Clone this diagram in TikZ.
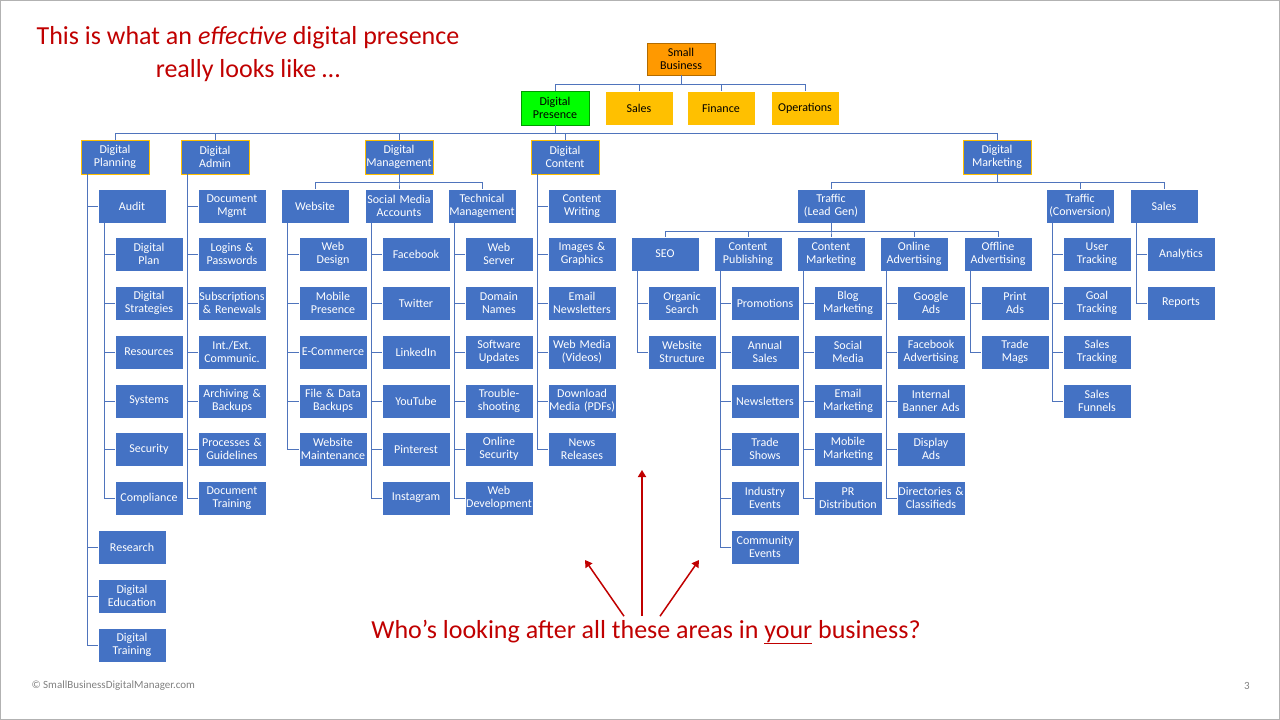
\documentclass[tikz,border=0pt]{standalone}
\usepackage{fontspec}
\setmainfont{Carlito}
\usetikzlibrary{arrows.meta, positioning}
\definecolor{boxblue}{HTML}{4472C4}
\definecolor{linkblue}{HTML}{4F74BC}
\definecolor{headgold}{HTML}{FFC000}
\definecolor{topamber}{HTML}{FF9900}
\definecolor{slidered}{HTML}{C00000}
\newcommand\boxfont{\fontsize{12}{13}\selectfont}
% one column of leaf boxes hanging from a parent
\newcommand\leafcol[4]{%
  \foreach \yy/\lbl [count=\i] in {#4} {
    \node[leaf] (#2\i) at (#3,\yy) {\lbl};
    \draw[link] ([xshift=7pt]#1.south west) |- (#2\i.west);
  }}

\begin{document}
\begin{tikzpicture}[x=1pt, y=-1pt, >=Triangle]
  \tikzset{leaf/.style={draw=white, fill=boxblue, text=white, font=\boxfont, minimum width=68pt, minimum height=34pt, inner sep=0pt, align=center, text width=68pt},
           head/.style={leaf, draw=headgold, line width=0.8pt},
           link/.style={draw=linkblue, line width=0.8pt},
           note/.style={text=slidered, font=\fontsize{26}{30}\selectfont}}
  \useasboundingbox (0,0) rectangle (1280,720);
  \draw[gray!60] (0.5,0.5) rectangle (1279.5,719.5);

  \node[note] (title1) at (248,38) {This is what an \emph{effective} digital presence};
  \node[note] (title2) at (248,71) {really looks like \dots};

  % top levels
  \node[leaf, fill=topamber, draw=topamber!70!black, text=black, minimum height=32pt] (sb) at (681,59) {Small\\Business};
  \node[leaf, fill=green, draw=green!60!black, text=black] (dp) at (555,108) {Digital\\Presence};
  \node[leaf, fill=headgold, text=black] (sales) at (639,108) {Sales};
  \node[leaf, fill=headgold, text=black] (fin) at (721,108) {Finance};
  \node[leaf, fill=headgold, text=black] (ops) at (805,108) {Operations};
  \foreach \c in {dp,sales,fin,ops}
    \draw[link] (sb.south) -- ++(0,9) -| (\c.north);

  \node[head] (plan) at (115,157) {Digital\\Planning};
  \node[head] (admin) at (215,157) {Digital\\Admin};
  \node[head] (mgmt) at (399,157) {Digital\\Management};
  \node[head] (cont) at (565,157) {Digital\\Content};
  \node[head] (mkt) at (997,157) {Digital\\Marketing};
  \foreach \c in {plan,admin,mgmt,cont,mkt}
    \draw[link] (dp.south) -- ++(0,8) -| (\c.north);

  % digital planning
  \node[leaf] (audit) at (132,206) {Audit};
  \node[leaf] (res) at (132,547) {Research};
  \node[leaf] (edu) at (132,596) {Digital\\Education};
  \node[leaf] (train) at (132,645) {Digital\\Training};
  \foreach \c in {audit,res,edu,train}
    \draw[link] ([xshift=7pt]plan.south west) |- (\c.west);
  \leafcol{audit}{au}{149}{254/{Digital\\Plan}, 303/{Digital\\Strategies}, 352/Resources, 401/Systems, 449/Security, 498/Compliance}

  % digital admin
  \leafcol{admin}{ad}{232}{206/{Document\\Mgmt}, 254/{Logins \&\\Passwords}, 303/{Subscriptions\\\& Renewals}, 352/{Int./Ext.\\Communic.}, 401/{Archiving \&\\Backups}, 449/{Processes \&\\Guidelines}, 498/{Document\\Training}}

  % digital management
  \node[leaf] (web) at (315,206) {Website};
  \node[leaf] (soc) at (399,206) {Social Media\\Accounts};
  \node[leaf] (tech) at (482,206) {Technical\\Management};
  \foreach \c in {web,soc,tech}
    \draw[link] (mgmt.south) -- ++(0,8) -| (\c.north);
  \leafcol{web}{we}{333}{254/{Web\\Design}, 303/{Mobile\\Presence}, 352/E-Commerce, 401/{File \& Data\\Backups}, 449/{Website\\Maintenance}}
  \leafcol{soc}{so}{416}{254/Facebook, 303/Twitter, 352/LinkedIn, 401/YouTube, 449/Pinterest, 498/Instagram}
  \leafcol{tech}{te}{499}{254/{Web\\Server}, 303/{Domain\\Names}, 352/{Software\\Updates}, 401/{Trouble-\\shooting}, 449/{Online\\Security}, 498/{Web\\Development}}

  % digital content
  \leafcol{cont}{co}{582}{206/{Content\\Writing}, 254/{Images \&\\Graphics}, 303/{Email\\Newsletters}, 352/{Web Media\\(Videos)}, 401/{Download\\Media (PDFs)}, 449/{News\\Releases}}

  % digital marketing
  \node[leaf] (lead) at (831,206) {Traffic\\(Lead Gen)};
  \node[leaf] (conv) at (1080,206) {Traffic\\(Conversion)};
  \node[leaf] (msales) at (1164,206) {Sales};
  \foreach \c in {lead,conv,msales}
    \draw[link] (mkt.south) -- ++(0,8) -| (\c.north);
  \node[leaf] (seo) at (665,254) {SEO};
  \node[leaf] (pub) at (748,254) {Content\\Publishing};
  \node[leaf] (cmk) at (831,254) {Content\\Marketing};
  \node[leaf] (onl) at (914,254) {Online\\Advertising};
  \node[leaf] (off) at (998,254) {Offline\\Advertising};
  \foreach \c in {seo,pub,cmk,onl,off}
    \draw[link] (lead.south) -- ++(0,8) -| (\c.north);
  \leafcol{seo}{se}{682}{303/{Organic\\Search}, 352/{Website\\Structure}}
  \leafcol{pub}{pu}{765}{303/Promotions, 352/{Annual\\Sales}, 401/Newsletters, 449/{Trade\\Shows}, 498/{Industry\\Events}, 547/{Community\\Events}}
  \leafcol{cmk}{cm}{848}{303/{Blog\\Marketing}, 352/{Social\\Media}, 401/{Email\\Marketing}, 449/{Mobile\\Marketing}, 498/{PR\\Distribution}}
  \leafcol{onl}{on}{931}{303/{Google\\Ads}, 352/{Facebook\\Advertising}, 401/{Internal\\Banner Ads}, 449/{Display\\Ads}, 498/{Directories \&\\Classifieds}}
  \leafcol{off}{of}{1015}{303/{Print\\Ads}, 352/{Trade\\Mags}}
  \leafcol{conv}{cv}{1097}{254/{User\\Tracking}, 303/{Goal\\Tracking}, 352/{Sales\\Tracking}, 401/{Sales\\Funnels}}
  \leafcol{msales}{ms}{1181}{254/Analytics, 303/Reports}

  % question and arrows
  \node[note] (quest) at (646,632) {Who’s looking after all these areas in \underline{your} business?};
  \coordinate (tipmid) at (642,470);
  \coordinate (tipleft) at (585,560);
  \coordinate (tipright) at (699,560);
  \draw[->, slidered, line width=1.5pt] ([xshift=-4pt]quest.north) -- (tipmid);
  \draw[->, slidered, line width=1.5pt] ([xshift=-22pt]quest.north) -- (tipleft);
  \draw[->, slidered, line width=1.5pt] ([xshift=14pt]quest.north) -- (tipright);

  \node[text=gray, font=\fontsize{11}{13}\selectfont, anchor=west] (copy) at (28,686) {© SmallBusinessDigitalManager.com};
  \node[text=gray, font=\fontsize{11}{13}\selectfont] (page) at (1247,686) {3};
\end{tikzpicture}
\end{document}
